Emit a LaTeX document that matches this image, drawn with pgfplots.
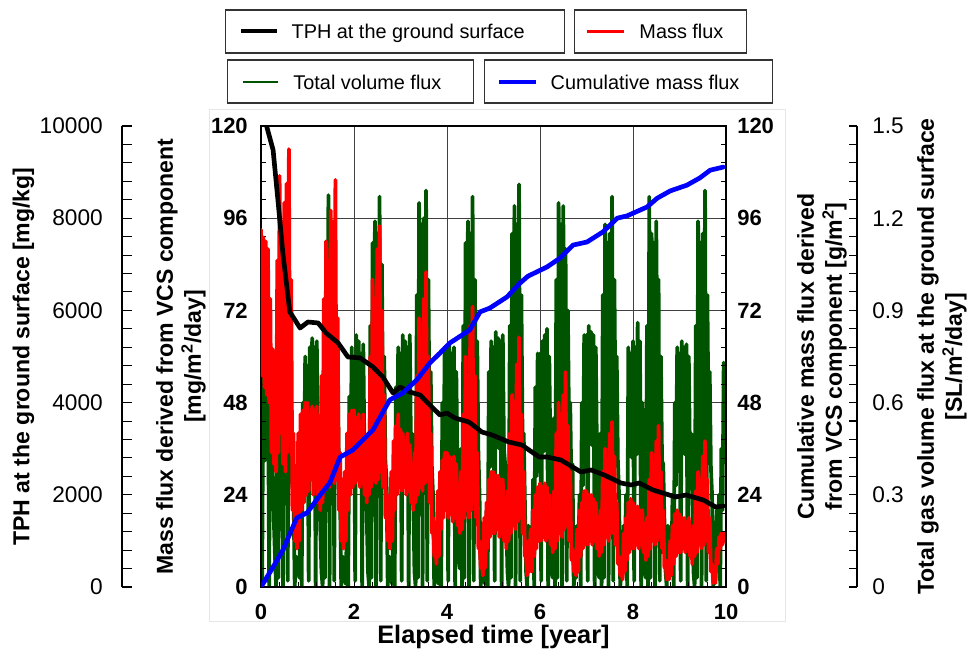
\documentclass[border=0pt]{standalone}
\usepackage{fontspec}
\setmainfont{Liberation Sans}
\usepackage{pgfplots}
\pgfplotsset{compat=1.18}

\definecolor{tphblack}{HTML}{000000}
\definecolor{fluxred}{HTML}{FF0000}
\definecolor{volgreen}{HTML}{005400}
\definecolor{cumblue}{HTML}{0000FF}
\definecolor{frameg}{HTML}{E6E6E6}

\newcommand\tickfont{\fontsize{16.5}{18}\selectfont\bfseries}
\newcommand\scalefont{\fontsize{17}{19}\selectfont}
\newcommand\labfont{\fontsize{17.3}{21}\selectfont\bfseries}
\newcommand\xlabfont{\fontsize{19}{22}\selectfont\bfseries}
\newcommand\legfont{\fontsize{14.9}{17}\selectfont}

\pgfplotsset{
  panel/.style={
    scale only axis, width=348.75pt, height=345.75pt,
    xmin=0, xmax=10,
    /pgf/number format/assume math mode=true,
    /pgf/number format/1000 sep={},
    scaled ticks=false,
    every axis plot/.append style={line join=round, line cap=round},
  },
  scalebar/.style={
    scale only axis, width=1pt, height=345.75pt,
    xmin=0, xmax=1, hide x axis,
    /pgf/number format/assume math mode=true,
    /pgf/number format/1000 sep={},
    scaled ticks=false,
    minor y tick num=4,
    tick style={black, line width=0.8pt},
  },
}

\begin{document}
\begin{tikzpicture}

% faint outer frame of the plot panel
\begin{scope}[x=0.75pt, y=-0.75pt, shift={(-195.75pt,440.25pt)}]
\draw[frameg, line width=0.75pt] (209,110) rectangle (785,622);
\end{scope}

% total gas volume flux (green) + grid
\begin{axis}[panel, ymin=0, ymax=1.5,
  xtick={2,4,6,8}, ytick={0.3,0.6,0.9,1.2},
  xticklabels={}, yticklabels={},
  major tick length=0pt,
  axis line style={draw=none},
  grid=major, major grid style={black!75, line width=0.6pt}]
\addplot[volgreen, line width=2.8pt] coordinates {
(0.000,0.70)(0.025,0.02)(0.050,0.74)(0.075,0.41)(0.100,0.76)(0.125,0.42)(0.150,0.74)(0.175,0.00)(0.200,0.72)(0.225,0.40)
(0.250,0.40)(0.275,0.22)(0.300,0.10)(0.325,0.00)(0.350,0.50)(0.375,0.03)(0.400,0.80)(0.425,0.44)(0.450,0.95)(0.475,0.00)
(0.500,1.05)(0.525,0.58)(0.550,0.95)(0.575,0.02)(0.600,0.90)(0.625,0.50)(0.650,0.60)(0.675,0.33)(0.700,0.30)(0.725,0.00)
(0.750,0.10)(0.775,0.06)(0.800,0.05)(0.825,0.03)(0.850,0.30)(0.875,0.00)(0.900,0.60)(0.925,0.33)(0.950,0.75)(0.975,0.41)
(1.000,0.72)(1.025,0.02)(1.050,0.78)(1.075,0.43)(1.100,0.81)(1.125,0.45)(1.150,0.78)(1.175,0.00)(1.200,0.80)(1.225,0.44)
(1.250,0.35)(1.275,0.19)(1.300,0.05)(1.325,0.00)(1.350,0.60)(1.375,0.03)(1.400,1.10)(1.425,0.52)(1.450,1.275)(1.475,0.00)
(1.500,1.05)(1.525,0.58)(1.550,1.10)(1.575,0.02)(1.600,0.90)(1.625,0.50)(1.650,0.70)(1.675,0.38)(1.700,0.30)(1.725,0.00)
(1.750,0.10)(1.775,0.05)(1.800,0.02)(1.825,0.01)(1.850,0.25)(1.875,0.00)(1.900,0.62)(1.925,0.34)(1.950,0.78)(1.975,0.43)
(2.000,0.75)(2.025,0.02)(2.050,0.82)(2.075,0.45)(2.100,0.80)(2.125,0.44)(2.150,0.76)(2.175,0.00)(2.200,0.79)(2.225,0.43)
(2.250,0.40)(2.275,0.22)(2.300,0.05)(2.325,0.00)(2.350,0.85)(2.375,0.03)(2.400,1.12)(2.425,0.55)(2.450,1.19)(2.475,0.00)
(2.500,1.15)(2.525,0.58)(2.550,1.27)(2.575,0.02)(2.600,1.05)(2.625,0.52)(2.650,0.75)(2.675,0.41)(2.700,0.35)(2.725,0.00)
(2.750,0.10)(2.775,0.06)(2.800,0.02)(2.825,0.01)(2.850,0.30)(2.875,0.00)(2.900,0.65)(2.925,0.36)(2.950,0.78)(2.975,0.43)
(3.000,0.76)(3.025,0.02)(3.050,0.82)(3.075,0.45)(3.100,0.80)(3.125,0.44)(3.150,0.78)(3.175,0.00)(3.200,0.82)(3.225,0.45)
(3.250,0.50)(3.275,0.28)(3.300,0.05)(3.325,0.00)(3.350,0.95)(3.375,0.03)(3.400,1.25)(3.425,0.69)(3.450,1.18)(3.475,0.00)
(3.500,1.20)(3.525,0.66)(3.550,1.29)(3.575,0.02)(3.600,1.00)(3.625,0.52)(3.650,0.70)(3.675,0.39)(3.700,0.30)(3.725,0.00)
(3.750,0.08)(3.775,0.04)(3.800,0.02)(3.825,0.01)(3.850,0.30)(3.875,0.00)(3.900,0.60)(3.925,0.33)(3.950,0.78)(3.975,0.43)
(4.000,0.77)(4.025,0.02)(4.050,0.79)(4.075,0.43)(4.100,0.76)(4.125,0.42)(4.150,0.78)(4.175,0.00)(4.200,0.70)(4.225,0.39)
(4.250,0.10)(4.275,0.06)(4.300,0.45)(4.325,0.00)(4.350,0.85)(4.375,0.03)(4.400,1.12)(4.425,0.55)(4.450,1.19)(4.475,0.00)
(4.500,1.15)(4.525,0.61)(4.550,1.27)(4.575,0.02)(4.600,1.00)(4.625,0.52)(4.650,0.80)(4.675,0.44)(4.700,0.30)(4.725,0.00)
(4.750,0.08)(4.775,0.04)(4.800,0.02)(4.825,0.01)(4.850,0.25)(4.875,0.00)(4.900,0.70)(4.925,0.39)(4.950,0.80)(4.975,0.44)
(5.000,0.78)(5.025,0.02)(5.050,0.83)(5.075,0.46)(5.100,0.81)(5.125,0.45)(5.150,0.80)(5.175,0.00)(5.200,0.82)(5.225,0.45)
(5.250,0.40)(5.275,0.22)(5.300,0.05)(5.325,0.00)(5.350,0.85)(5.375,0.03)(5.400,1.15)(5.425,0.55)(5.450,1.24)(5.475,0.00)
(5.500,1.18)(5.525,0.61)(5.550,1.31)(5.575,0.02)(5.600,0.95)(5.625,0.47)(5.650,0.50)(5.675,0.28)(5.700,0.05)(5.725,0.00)
(5.750,0.20)(5.775,0.11)(5.800,0.10)(5.825,0.06)(5.850,0.35)(5.875,0.00)(5.900,0.65)(5.925,0.36)(5.950,0.76)(5.975,0.42)
(6.000,0.76)(6.025,0.02)(6.050,0.80)(6.075,0.44)(6.100,0.82)(6.125,0.45)(6.150,0.84)(6.175,0.00)(6.200,0.75)(6.225,0.41)
(6.250,0.05)(6.275,0.03)(6.300,0.55)(6.325,0.00)(6.350,1.00)(6.375,0.03)(6.400,1.25)(6.425,0.69)(6.450,1.18)(6.475,0.00)
(6.500,1.24)(6.525,0.68)(6.550,1.10)(6.575,0.02)(6.600,0.90)(6.625,0.50)(6.650,0.60)(6.675,0.33)(6.700,0.40)(6.725,0.00)
(6.750,0.05)(6.775,0.03)(6.800,0.20)(6.825,0.11)(6.850,0.30)(6.875,0.00)(6.900,0.60)(6.925,0.33)(6.950,0.82)(6.975,0.45)
(7.000,0.82)(7.025,0.02)(7.050,0.85)(7.075,0.47)(7.100,0.83)(7.125,0.46)(7.150,0.82)(7.175,0.00)(7.200,0.78)(7.225,0.43)
(7.250,0.05)(7.275,0.03)(7.300,0.50)(7.325,0.00)(7.350,0.95)(7.375,0.03)(7.400,1.18)(7.425,0.65)(7.450,1.12)(7.475,0.00)
(7.500,1.15)(7.525,0.61)(7.550,1.27)(7.575,0.02)(7.600,1.00)(7.625,0.52)(7.650,0.75)(7.675,0.41)(7.700,0.30)(7.725,0.00)
(7.750,0.05)(7.775,0.03)(7.800,0.20)(7.825,0.11)(7.850,0.30)(7.875,0.00)(7.900,0.78)(7.925,0.43)(7.950,0.76)(7.975,0.42)
(8.000,0.80)(8.025,0.02)(8.050,0.78)(8.075,0.43)(8.100,0.86)(8.125,0.47)(8.150,0.80)(8.175,0.00)(8.200,0.60)(8.225,0.33)
(8.250,0.05)(8.275,0.03)(8.300,0.85)(8.325,0.00)(8.350,1.27)(8.375,0.03)(8.400,1.15)(8.425,0.58)(8.450,1.12)(8.475,0.00)
(8.500,1.19)(8.525,0.65)(8.550,1.00)(8.575,0.02)(8.600,0.75)(8.625,0.41)(8.650,0.40)(8.675,0.22)(8.700,0.05)(8.725,0.00)
(8.750,0.20)(8.775,0.11)(8.800,0.10)(8.825,0.06)(8.850,0.30)(8.875,0.00)(8.900,0.60)(8.925,0.33)(8.950,0.78)(8.975,0.43)
(9.000,0.76)(9.025,0.02)(9.050,0.80)(9.075,0.44)(9.100,0.78)(9.125,0.43)(9.150,0.79)(9.175,0.00)(9.200,0.75)(9.225,0.41)
(9.250,0.50)(9.275,0.28)(9.300,0.05)(9.325,0.00)(9.350,0.85)(9.375,0.03)(9.400,1.19)(9.425,0.65)(9.450,1.12)(9.475,0.00)
(9.500,1.15)(9.525,0.63)(9.550,1.29)(9.575,0.02)(9.600,0.95)(9.625,0.50)(9.650,0.70)(9.675,0.39)(9.700,0.30)(9.725,0.00)
(9.750,0.05)(9.775,0.03)(9.800,0.25)(9.825,0.14)(9.850,0.30)(9.875,0.00)(9.900,0.45)(9.925,0.25)(9.950,0.73)
};
\end{axis}

% mass flux (red), main frame, left and bottom scales
\begin{axis}[panel, ymin=0, ymax=120,
  xtick={0,2,...,10}, ytick={0,24,...,120},
  minor x tick num=4, minor y tick num=4,
  tick pos=left, tick align=inside,
  major tick length=3.75pt, minor tick length=3.75pt,
  tick style={black, line width=0.6pt},
  axis line style={black, line width=0.8pt},
  xticklabel style={font=\tickfont, inner sep=0pt, anchor=north, yshift=-12.75pt},
  yticklabel style={font=\tickfont, inner sep=0pt, anchor=east, xshift=-9.75pt},
  xlabel={Elapsed time [year]},
  ylabel={Mass flux derived from VCS component\\{[mg/m\textsuperscript{2}/day]}},
  every axis x label/.style={at={(rel axis cs:0.5,0)}, yshift=-37.5pt, anchor=center, font=\xlabfont},
  every axis y label/.style={at={(rel axis cs:0,0.5)}, xshift=-60pt, rotate=90, anchor=center, align=center, font=\labfont},
]
\addplot[fluxred, line width=2.8pt] coordinates {
(0.000,93)(0.025,55)(0.050,91)(0.075,52)(0.100,90)(0.125,50)(0.150,88)(0.175,48)(0.200,75)(0.225,35)
(0.250,62)(0.275,32)(0.300,60)(0.325,30)(0.350,85)(0.375,35)(0.400,107)(0.425,40)(0.450,95)(0.475,32)
(0.500,100)(0.525,30)(0.550,105)(0.575,35)(0.600,114)(0.625,38)(0.650,80)(0.675,20)(0.700,40)(0.725,12)
(0.750,30)(0.775,10)(0.800,40)(0.825,12)(0.850,45)(0.875,20)(0.900,46)(0.925,22)(0.950,48)(0.975,24)
(1.000,48)(1.025,25)(1.050,45)(1.075,28)(1.100,47)(1.125,24)(1.150,46)(1.175,26)(1.200,47)(1.225,22)
(1.250,40)(1.275,20)(1.300,55)(1.325,22)(1.350,75)(1.375,25)(1.400,90)(1.425,28)(1.450,85)(1.475,26)
(1.500,98)(1.525,30)(1.550,95)(1.575,27)(1.600,106)(1.625,28)(1.650,70)(1.675,20)(1.700,35)(1.725,12)
(1.750,18)(1.775,10)(1.800,30)(1.825,12)(1.850,40)(1.875,20)(1.900,45)(1.925,24)(1.950,46)(1.975,26)
(2.000,46)(2.025,27)(2.050,44)(2.075,28)(2.100,45)(2.125,26)(2.150,43)(2.175,27)(2.200,45)(2.225,24)
(2.250,38)(2.275,22)(2.300,40)(2.325,24)(2.350,60)(2.375,26)(2.400,80)(2.425,28)(2.450,75)(2.475,27)
(2.500,88)(2.525,28)(2.550,94)(2.575,30)(2.600,72)(2.625,26)(2.650,50)(2.675,18)(2.700,25)(2.725,12)
(2.750,15)(2.775,10)(2.800,30)(2.825,12)(2.850,38)(2.875,20)(2.900,42)(2.925,24)(2.950,45)(2.975,26)
(3.000,41)(3.025,25)(3.050,40)(3.075,26)(3.100,38)(3.125,24)(3.150,40)(3.175,25)(3.200,37)(3.225,22)
(3.250,32)(3.275,20)(3.300,35)(3.325,22)(3.350,55)(3.375,24)(3.400,70)(3.425,26)(3.450,65)(3.475,25)
(3.500,75)(3.525,27)(3.550,82)(3.575,28)(3.600,60)(3.625,22)(3.650,40)(3.675,14)(3.700,18)(3.725,8)
(3.750,10)(3.775,6)(3.800,25)(3.825,8)(3.850,30)(3.875,15)(3.900,33)(3.925,18)(3.950,35)(3.975,20)
(4.000,35)(4.025,18)(4.050,34)(4.075,19)(4.100,33)(4.125,17)(4.150,34)(4.175,18)(4.200,32)(4.225,16)
(4.250,22)(4.275,14)(4.300,30)(4.325,15)(4.350,45)(4.375,18)(4.400,60)(4.425,20)(4.450,55)(4.475,18)
(4.500,68)(4.525,20)(4.550,73)(4.575,22)(4.600,55)(4.625,18)(4.650,35)(4.675,10)(4.700,12)(4.725,5)
(4.750,6)(4.775,3)(4.800,18)(4.825,5)(4.850,22)(4.875,10)(4.900,28)(4.925,13)(4.950,30)(4.975,14)
(5.000,30)(5.025,14)(5.050,29)(5.075,15)(5.100,29)(5.125,13)(5.150,28)(5.175,14)(5.200,28)(5.225,12)
(5.250,20)(5.275,10)(5.300,25)(5.325,12)(5.350,40)(5.375,14)(5.400,50)(5.425,16)(5.450,48)(5.475,15)
(5.500,58)(5.525,17)(5.550,65)(5.575,18)(5.600,45)(5.625,14)(5.650,30)(5.675,8)(5.700,8)(5.725,3)
(5.750,12)(5.775,4)(5.800,15)(5.825,4)(5.850,20)(5.875,8)(5.900,24)(5.925,10)(5.950,26)(5.975,12)
(6.000,27)(6.025,12)(6.050,26)(6.075,13)(6.100,27)(6.125,12)(6.150,26)(6.175,13)(6.200,24)(6.225,11)
(6.250,18)(6.275,9)(6.300,25)(6.325,10)(6.350,40)(6.375,12)(6.400,48)(6.425,14)(6.450,45)(6.475,13)
(6.500,50)(6.525,15)(6.550,56)(6.575,16)(6.600,42)(6.625,12)(6.650,30)(6.675,7)(6.700,10)(6.725,4)
(6.750,6)(6.775,3)(6.800,15)(6.825,4)(6.850,20)(6.875,8)(6.900,22)(6.925,10)(6.950,25)(6.975,11)
(7.000,25)(7.025,11)(7.050,24)(7.075,12)(7.100,24)(7.125,11)(7.150,23)(7.175,12)(7.200,22)(7.225,10)
(7.250,16)(7.275,8)(7.300,20)(7.325,9)(7.350,30)(7.375,11)(7.400,36)(7.425,13)(7.450,33)(7.475,12)
(7.500,40)(7.525,14)(7.550,43)(7.575,14)(7.600,34)(7.625,11)(7.650,22)(7.675,6)(7.700,8)(7.725,3)
(7.750,5)(7.775,2)(7.800,14)(7.825,4)(7.850,18)(7.875,7)(7.900,22)(7.925,9)(7.950,23)(7.975,10)
(8.000,22)(8.025,10)(8.050,21)(8.075,11)(8.100,21)(8.125,10)(8.150,20)(8.175,11)(8.200,20)(8.225,9)
(8.250,14)(8.275,7)(8.300,18)(8.325,8)(8.350,28)(8.375,10)(8.400,35)(8.425,12)(8.450,32)(8.475,11)
(8.500,38)(8.525,12)(8.550,42)(8.575,13)(8.600,30)(8.625,10)(8.650,20)(8.675,5)(8.700,7)(8.725,2)
(8.750,4)(8.775,2)(8.800,12)(8.825,3)(8.850,16)(8.875,6)(8.900,19)(8.925,8)(8.950,20)(8.975,9)
(9.000,19)(9.025,9)(9.050,18)(9.075,10)(9.100,18)(9.125,9)(9.150,17)(9.175,10)(9.200,18)(9.225,8)
(9.250,13)(9.275,6)(9.300,16)(9.325,8)(9.350,25)(9.375,9)(9.400,30)(9.425,11)(9.450,28)(9.475,10)
(9.500,34)(9.525,11)(9.550,38)(9.575,12)(9.600,28)(9.625,9)(9.650,18)(9.675,4)(9.700,6)(9.725,1)
(9.750,3)(9.775,1)(9.800,10)(9.825,6)(9.850,13)(9.875,10)(9.900,14)(9.925,11)(9.950,14)(9.975,12)
};
\end{axis}

% TPH (black), scale drawn separately on the far left
\begin{axis}[panel, ymin=0, ymax=10000, hide axis]
\addplot[tphblack, line width=3.5pt] coordinates {
(0.12,10000)(0.26,9480)(0.37,8330)(0.47,7245)(0.62,5965)(0.69,5857)(0.84,5618)(1.01,5748)
(1.23,5727)(1.40,5510)(1.66,5293)(1.87,4989)(2.13,4970)(2.41,4772)(2.62,4555)(2.84,4208)
(2.99,4338)(3.20,4230)(3.42,4165)(3.63,3948)(3.85,3731)(4.00,3774)(4.17,3666)(4.47,3579)
(4.75,3362)(4.97,3297)(5.33,3145)(5.61,3080)(5.98,2820)(6.15,2820)(6.45,2755)(6.88,2495)
(7.10,2538)(7.38,2430)(7.74,2256)(7.96,2213)(8.13,2256)(8.43,2104)(8.92,1952)(9.14,1996)
(9.51,1887)(9.78,1735)(9.94,1757)
};
\end{axis}

% cumulative mass flux (blue), right scale
\begin{axis}[panel, ymin=0, ymax=120, hide x axis, axis y line=right,
  y axis line style={-, black, line width=0.8pt},
  ytick={0,24,...,120}, minor y tick num=4, tick align=inside,
  major tick length=3.75pt, minor tick length=3.75pt,
  tick style={black, line width=0.6pt},
  yticklabel style={font=\tickfont, inner sep=0pt, anchor=west, xshift=8.25pt},
  ylabel={Cumulative mass flux derived\\from VCS component [g/m\textsuperscript{2}]},
  every axis y label/.style={at={(rel axis cs:1,0.5)}, xshift=72pt, rotate=90, anchor=center, align=center, font=\labfont},
]
\addplot[cumblue, line width=3.5pt] coordinates {
(0,0)(0.26,5.2)(0.47,9.6)(0.77,18.0)(0.99,19.3)(1.27,23.9)(1.48,27.1)(1.70,33.8)(1.98,35.7)
(2.41,40.9)(2.62,45.5)(2.77,48.7)(3.05,50.5)(3.35,53.9)(3.63,58.3)(3.85,60.9)(4.06,63.5)
(4.49,66.9)(4.71,71.6)(4.92,72.6)(5.29,75.5)(5.57,79.1)(5.74,80.9)(6.15,83.3)(6.43,85.6)
(6.71,89.0)(7.01,89.8)(7.35,92.4)(7.66,96.0)(7.87,96.6)(8.30,98.9)(8.52,101.2)(8.80,103.1)
(9.16,104.6)(9.44,106.5)(9.66,108.5)(9.94,109.3)
};
\end{axis}

% far-left TPH scale
\begin{axis}[scalebar, at={(-104.25pt,0pt)}, ymin=0, ymax=10000,
  axis y line=left, y axis line style={-, black, line width=0.8pt},
  tick align=inside,
  major tick length=7.5pt, minor tick length=7.5pt,
  ytick={0,2000,...,10000},
  yticklabel style={font=\scalefont, inner sep=0pt, anchor=east, xshift=-14.25pt},
  ylabel={TPH at the ground surface [mg/kg]},
  every axis y label/.style={at={(rel axis cs:0,0.5)}, xshift=-73.9pt, rotate=90, anchor=center, font=\labfont},
]
\end{axis}

% far-right volume flux scale
\begin{axis}[scalebar, at={(446pt,0pt)}, ymin=0, ymax=1.5,
  axis y line=right, y axis line style={-, black, line width=0.8pt},
  tick align=inside,
  major tick length=6pt, minor tick length=6pt,
  ytick={0,0.3,0.6,0.9,1.2,1.5},
  yticklabel style={font=\scalefont, inner sep=0pt, anchor=west, xshift=11.25pt},
  ylabel={Total gas volume flux at the ground surface\\{[SL/m\textsuperscript{2}/day]}},
  every axis y label/.style={at={(rel axis cs:1,0.5)}, xshift=63.75pt, rotate=90, anchor=center, align=center, font=\labfont},
]
\end{axis}

% boxed legend entries above the panel
\begin{scope}[x=0.75pt, y=-0.75pt, shift={(-195.75pt,440.25pt)}]
\draw[black!80, line width=0.8pt] (225.5,10) rectangle (564.4,53);
\draw[tphblack, line width=3pt] (241.4,31.5) -- (276.6,31.5);
\node[anchor=base west, inner sep=0pt, font=\legfont] at (291.4,39) {TPH at the ground surface};
\draw[black!80, line width=0.8pt] (574.4,10) rectangle (746.4,53);
\draw[fluxred, line width=2.2pt] (587.4,31.5) -- (623.6,31.5);
\node[anchor=base west, inner sep=0pt, font=\legfont] at (639.2,39) {Mass flux};
\draw[black!80, line width=0.8pt] (227.8,60) rectangle (473.8,103);
\draw[volgreen, line width=2.2pt] (243.3,82) -- (278.4,82);
\node[anchor=base west, inner sep=0pt, font=\legfont] at (293.2,89.5) {Total volume flux};
\draw[black!80, line width=0.8pt] (484.5,60) rectangle (772.3,103);
\draw[cumblue, line width=3pt] (498.6,82) -- (535.6,82);
\node[anchor=base west, inner sep=0pt, font=\legfont] at (550.4,89.5) {Cumulative mass flux};
\pgfresetboundingbox
\path[use as bounding box] (0,0) rectangle (977,655);
\end{scope}

\end{tikzpicture}
\end{document}
